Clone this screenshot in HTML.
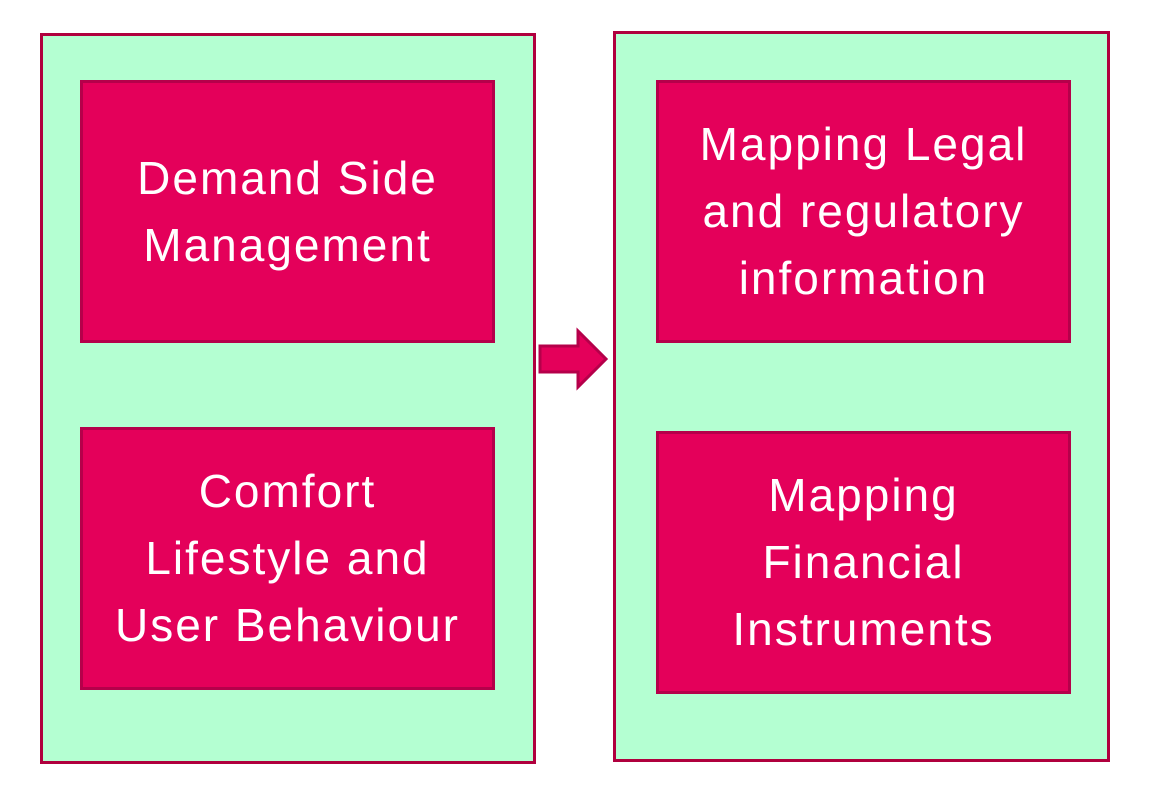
<!DOCTYPE html>
<html><head><style>
body{margin:0;width:1149px;height:808px;background:#fff;position:relative;overflow:hidden;font-family:"Liberation Sans",sans-serif}
.o{position:absolute;background:#b4ffd2;border:3px solid #b0003e;box-sizing:border-box}
.i{position:absolute;background:#e4005a;border:3px solid #b5004a;box-sizing:border-box;color:#fff;font-size:46px;letter-spacing:2px;line-height:67px;text-align:center;display:flex;align-items:center;justify-content:center;white-space:nowrap}
</style></head><body>
<div class="o" style="left:40px;top:33px;width:496px;height:731px"></div>
<div class="o" style="left:613px;top:31px;width:497px;height:731px"></div>
<div class="i" style="left:80px;top:80px;width:415px;height:263px">Demand Side<br>Management</div>
<div class="i" style="left:80px;top:427px;width:415px;height:263px">Comfort<br>Lifestyle and<br>User Behaviour</div>
<div class="i" style="left:656px;top:80px;width:415px;height:263px">Mapping Legal<br>and regulatory<br>information</div>
<div class="i" style="left:656px;top:431px;width:415px;height:263px">Mapping<br>Financial<br>Instruments</div>
<svg style="position:absolute;left:0;top:0" width="1149" height="808">
<polygon points="540,346 578,346 578,331 606,359 578,387 578,372 540,372" fill="#e4005a" stroke="#b5004a" stroke-width="3"/>
</svg>
</body></html>
